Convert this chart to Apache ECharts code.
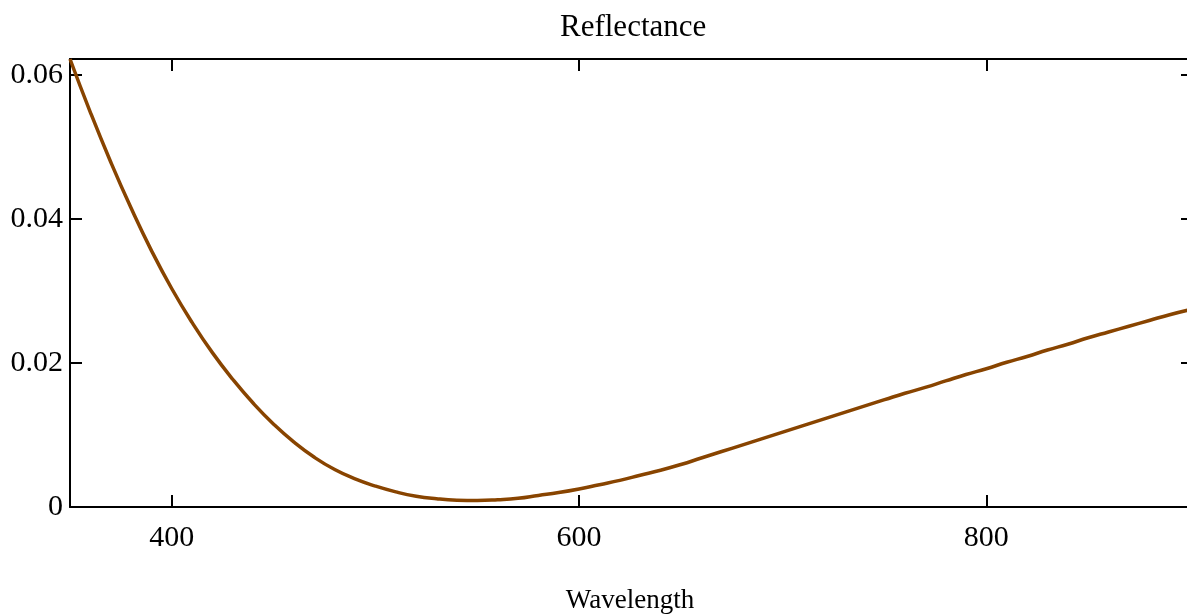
<!DOCTYPE html>
<html>
<head>
<meta charset="utf-8">
<script src="https://cdn.jsdelivr.net/npm/echarts@6/dist/echarts.min.js"></script>
<style>
html,body{margin:0;padding:0;background:#fff;overflow:hidden;}
#chart{width:1187px;height:616px;}
</style>
</head>
<body>
<div id="chart"></div>
<script>
const wavelengths = [350,360,370,380,390,400,410,420,430,440,450,460,470,480,490,500,510,520,530,540,550,560,570,580,590,600,610,620,630,640,650,660,670,680,690,700,710,720,730,740,750,760,770,780,790,800,810,820,830,840,850,860,870,880,890,900];
const reflectance = [0.0622,0.0548,0.0479,0.0415,0.0356,0.0303,0.0256,0.0214,0.0177,0.0144,0.0115,0.0090,0.0069,0.0052,0.0039,0.0029,0.0021,0.0015,0.00115,0.00095,0.0009,0.0010,0.0012,0.0016,0.0020,0.0025,0.0031,0.0037,0.0044,0.0051,0.0059,0.0068,0.0077,0.0086,0.0095,0.0104,0.0113,0.0122,0.0131,0.0140,0.0149,0.0158,0.0166,0.0175,0.0184,0.0192,0.0201,0.0209,0.0218,0.0226,0.0235,0.0243,0.0251,0.0259,0.0267,0.0274];
const xTicks = [400,600,800];
const yTicks = [0,0.02,0.04,0.06];
const titleText = 'Reflectance';
const xName = 'Wavelength';

const font = 'Liberation Serif, Times New Roman, serif';
const chart = echarts.init(document.getElementById('chart'));
const lineStyle = {color:'#000', width:2};
chart.setOption({
  animation:false,
  title:{text:titleText,left:555,top:7,textStyle:{fontFamily:font,fontSize:31,fontWeight:'normal',color:'#000'}},
  grid:{left:70,width:1120,top:59,height:448,outerBoundsMode:'none',containLabel:false},
  xAxis:[{
    type:'value',min:350,max:900,position:'bottom',
    name:xName,nameLocation:'middle',nameGap:80,
    nameTextStyle:{fontFamily:font,fontSize:27,color:'#000'},
    axisLine:{show:true,onZero:false,lineStyle:lineStyle},
    axisTick:{show:true,inside:true,length:12,customValues:xTicks,lineStyle:lineStyle},
    axisLabel:{customValues:xTicks,fontFamily:font,fontSize:30,color:'#000',margin:16},
    splitLine:{show:false}
  },{
    type:'value',min:350,max:900,position:'top',
    axisLine:{show:true,onZero:false,lineStyle:lineStyle},
    axisTick:{show:true,inside:true,length:12,customValues:xTicks,lineStyle:lineStyle},
    axisLabel:{show:false},splitLine:{show:false}
  }],
  yAxis:[{
    type:'value',min:0,max:0.0622,position:'left',
    axisLine:{show:true,onZero:false,lineStyle:lineStyle},
    axisTick:{show:true,inside:true,length:12,customValues:yTicks,lineStyle:lineStyle},
    axisLabel:{customValues:yTicks,fontFamily:font,fontSize:30,color:'#000',margin:7},
    splitLine:{show:false}
  },{
    type:'value',min:0,max:0.0622,position:'right',
    axisLine:{show:false,onZero:false,lineStyle:lineStyle},
    axisTick:{show:true,inside:true,length:9,customValues:yTicks,lineStyle:lineStyle},
    axisLabel:{show:false},splitLine:{show:false}
  }],
  series:[{
    type:'line',xAxisIndex:0,yAxisIndex:0,
    data:wavelengths.map((w,i)=>[w,reflectance[i]]),
    smooth:0.5,showSymbol:false,
    lineStyle:{color:'#884400',width:3.5},
    clip:true
  }]
});
</script>
</body>
</html>
